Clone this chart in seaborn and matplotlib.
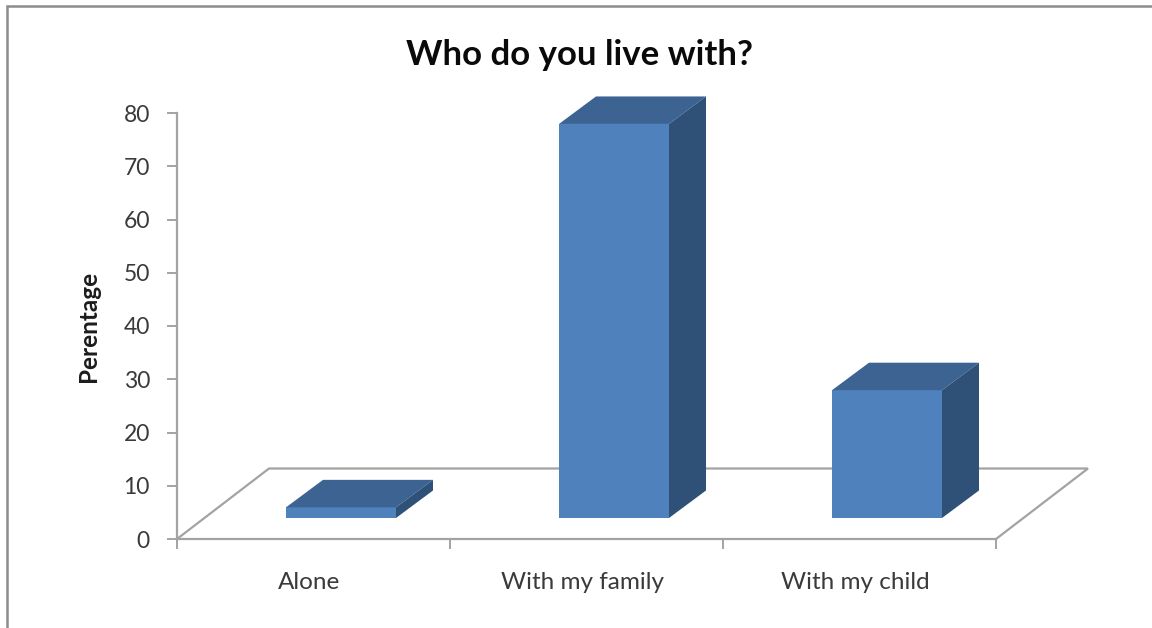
import matplotlib
matplotlib.use("Agg")
import matplotlib.pyplot as plt
import seaborn as sns
import pandas as pd
from matplotlib.lines import Line2D
from matplotlib.patches import Polygon

categories = ["Alone", "With my family", "With my child"]
percentages = [2, 74, 24]
y_ticks = [0, 10, 20, 30, 40, 50, 60, 70, 80]
title = "Who do you live with?"
y_title = "Perentage"

FRONT, TOP, SIDE = "#4F81BD", "#3C6392", "#2F5178"
AXIS = "#A3A3A3"
TEXT = "#3A3A3A"
W, H = 1152, 628
L, R, T, B = 177, 996, 113, 539

sns.set_theme(style="white")
plt.rcParams["font.family"] = ["Lato", "DejaVu Sans"]

fig = plt.figure(figsize=(W / 100, H / 100), dpi=100, facecolor="white")
ax = fig.add_axes([L / W, 1 - B / H, (R - L) / W, (B - T) / H])

df = pd.DataFrame({"who": categories, "pct": percentages})
px_x = 3 / (R - L)        # category units per pixel
px_y = 80 / (B - T)       # value units per pixel
base = 21 * px_y          # bars stand on the raised floor
sns.barplot(data=df, x="who", y="pct", ax=ax, color=FRONT, saturation=1,
            width=110 * px_x, bottom=base, linewidth=0, zorder=3)
ax.set_xlim(-0.5, 2.5)
ax.set_ylim(0, 80)

# 3-D depth derived from each bar
shift = 27.5 * px_x
dx, dy = 37 * px_x, 27.5 * px_y
for bar in ax.patches[:len(categories)]:
    bar.set_x(bar.get_x() + shift)
    x0, x1 = bar.get_x(), bar.get_x() + bar.get_width()
    y0, y1 = bar.get_y(), bar.get_y() + bar.get_height()
    ax.add_patch(Polygon([(x0, y1), (x1, y1), (x1 + dx, y1 + dy), (x0 + dx, y1 + dy)],
                         closed=True, fc=TOP, ec="none", zorder=3, clip_on=False))
    ax.add_patch(Polygon([(x1, y0), (x1 + dx, y0 + dy), (x1 + dx, y1 + dy), (x1, y1)],
                         closed=True, fc=SIDE, ec="none", zorder=3, clip_on=False))

# floor outline
fx, fy = 92 * px_x, 70.5 * px_y
ax.plot([-0.5, -0.5 + fx, 2.5 + fx, 2.5], [0, fy, fy, 0], color=AXIS, lw=1.6,
        zorder=1, clip_on=False, solid_joinstyle="miter")

for s in ("top", "right"):
    ax.spines[s].set_visible(False)
for s in ("left", "bottom"):
    ax.spines[s].set_color(AXIS)
    ax.spines[s].set_linewidth(1.6)

ax.set_yticks(y_ticks)
ax.tick_params(axis="y", length=7, width=1.4, color=AXIS, labelsize=16.5,
               labelcolor=TEXT, pad=12.5, left=True)
ax.set_xticks([-0.5, 0.5, 1.5, 2.5], labels=[])
ax.set_xticks([i - 4 * px_x for i in range(len(categories))], labels=categories, minor=True)
ax.tick_params(axis="x", which="major", length=7, width=1.4, color=AXIS, bottom=True)
ax.tick_params(axis="x", which="minor", length=0, labelsize=17.5, labelcolor=TEXT, pad=23.5)
ax.set_xlabel("")
ax.set_ylabel("")

fig.text(89 / W, 1 - 326 / H, y_title, rotation=90, ha="center", va="center",
         fontsize=17.5, fontweight="bold", color="#1c1c1c")
fig.text(580 / W, 1 - 55 / H, title, ha="center", va="center",
         fontsize=25, fontweight="bold", color="#0a0a0a")

# outer chart frame, running off the picture at right and bottom
frame = "#8C8C8C"
fig.add_artist(Line2D([7 / W, 7 / W, 1], [0, 1 - 6 / H, 1 - 6 / H], transform=fig.transFigure,
                      color=frame, lw=1.8, solid_joinstyle="miter"))

fig.savefig("out.png", dpi=100, facecolor="white")
